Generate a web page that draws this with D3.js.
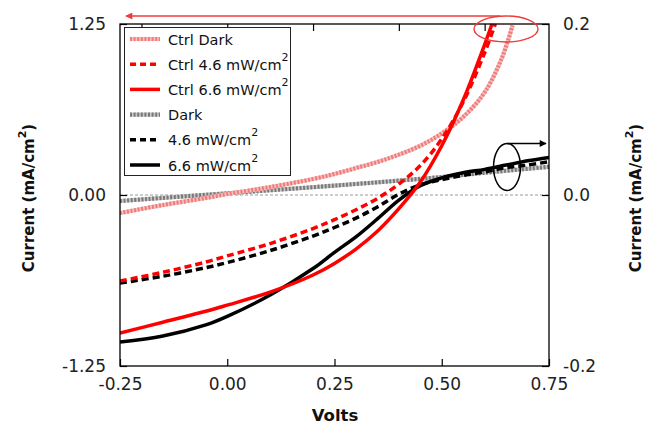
<!DOCTYPE html>
<html>
<head>
<meta charset="utf-8">
<script src="https://cdn.jsdelivr.net/npm/d3@7"></script>
<style>
  html, body { margin: 0; padding: 0; background: #fff; }
  svg { display: block; }
  text { font-family: "DejaVu Sans", sans-serif; }
</style>
</head>
<body>
<svg id="chart" width="649" height="426"></svg>
<script>
// ---- data -------------------------------------------------------------
// Ctrl devices: left axis (mA/cm^2)
const ctrlDarkV   = [-0.25, -0.15, -0.05, 0, 0.1, 0.2, 0.25, 0.3, 0.35, 0.4, 0.45, 0.5, 0.55, 0.6, 0.64, 0.665];
const ctrlDarkI   = [-0.132, -0.073, -0.022, 0.007, 0.058, 0.117, 0.154, 0.197, 0.241, 0.295, 0.36, 0.45, 0.57, 0.75, 1.0, 1.24];

const ctrl46V     = [-0.25, -0.15, -0.05, 0, 0.1, 0.2, 0.25, 0.3, 0.35, 0.4, 0.45, 0.5, 0.55, 0.6, 0.625];
const ctrl46I     = [-0.629, -0.565, -0.49, -0.445, -0.355, -0.245, -0.18, -0.108, -0.025, 0.08, 0.215, 0.41, 0.68, 1.04, 1.25];

const ctrl66V     = [-0.25, -0.15, -0.05, 0, 0.1, 0.2, 0.25, 0.3, 0.35, 0.4, 0.45, 0.5, 0.55, 0.6, 0.617];
const ctrl66I     = [-1.009, -0.93, -0.85, -0.805, -0.71, -0.585, -0.5, -0.395, -0.265, -0.1, 0.095, 0.36, 0.694, 1.1, 1.25];

// Devices: right axis (mA/cm^2)
const darkV       = [-0.25, 0, 0.25, 0.5, 0.6, 0.75];
const darkI       = [-0.007, 0.002, 0.011, 0.021, 0.026, 0.033];

const dev46V      = [-0.25, -0.15, -0.05, 0, 0.1, 0.2, 0.25, 0.3, 0.35, 0.4, 0.45, 0.5, 0.55, 0.6, 0.65, 0.7, 0.75];
const dev46I      = [-0.103, -0.095, -0.085, -0.079, -0.065, -0.048, -0.038, -0.027, -0.014, 0.001, 0.012, 0.018, 0.023, 0.027, 0.032, 0.035, 0.039];

const dev66V      = [-0.25, -0.15, -0.05, 0, 0.1, 0.2, 0.25, 0.3, 0.35, 0.4, 0.45, 0.5, 0.55, 0.6, 0.65, 0.7, 0.75];
const dev66I      = [-0.172, -0.165, -0.152, -0.142, -0.117, -0.086, -0.067, -0.049, -0.028, -0.006, 0.011, 0.020, 0.026, 0.030, 0.035, 0.040, 0.044];

const xTicks      = [-0.25, 0, 0.25, 0.5, 0.75];
const xTopTicks   = [-0.2, 0, 0.2, 0.4, 0.6];
const yLeftTicks  = [1.25, 0, -1.25];
const yRightTicks = [0.2, 0, -0.2];

const legendLabels = ["Ctrl Dark", "Ctrl 4.6 mW/cm", "Ctrl 6.6 mW/cm", "Dark", "4.6 mW/cm", "6.6 mW/cm"];
const legendSup    = [false, true, true, false, true, true];

// ---- layout -----------------------------------------------------------
const L = 120, R = 549, T = 24, B = 366;
const svg = d3.select("#chart");

const x  = d3.scaleLinear().domain([-0.25, 0.75]).range([L, R]);
const yL = d3.scaleLinear().domain([-1.25, 1.25]).range([B, T]);
const yR = d3.scaleLinear().domain([-0.2, 0.2]).range([B, T]);

// plain hyphen for negative numbers
const fmt = p => d => d3.format(p)(d).replace("\u2212", "-");

// line styles
const styles = {
  ctrlDark: [{stroke: "#f7c0c0", width: 4.2}, {stroke: "#f07c7c", width: 4.2, dash: "2,1.6"}],
  ctrl46:   [{stroke: "#ff0000", width: 3.5, dash: "7,4"}],
  ctrl66:   [{stroke: "#ff0000", width: 3.5}],
  dark:     [{stroke: "#c8c8c8", width: 4.2}, {stroke: "#7a7a7a", width: 4.2, dash: "2,1.6"}],
  dev46:    [{stroke: "#000", width: 3.5, dash: "7,4"}],
  dev66:    [{stroke: "#000", width: 3.5}]
};

const series = [
  {key: "dark",     v: darkV,     i: darkI,     y: yR},
  {key: "ctrlDark", v: ctrlDarkV, i: ctrlDarkI, y: yL},
  {key: "dev46",    v: dev46V,    i: dev46I,    y: yR},
  {key: "dev66",    v: dev66V,    i: dev66I,    y: yR},
  {key: "ctrl46",   v: ctrl46V,   i: ctrl46I,   y: yL},
  {key: "ctrl66",   v: ctrl66V,   i: ctrl66I,   y: yL}
];

const defs = svg.append("defs");
defs.append("clipPath").attr("id", "plot")
  .append("rect").attr("x", L).attr("y", T - 2).attr("width", R - L).attr("height", B - T + 2);

// zero reference line
svg.append("line")
  .attr("x1", L).attr("x2", R).attr("y1", yL(0)).attr("y2", yL(0))
  .attr("stroke", "#9a9a9a").attr("stroke-width", 1).attr("stroke-dasharray", "3,2");

const g = svg.append("g").attr("clip-path", "url(#plot)");
series.forEach(s => {
  const pts = s.v.map((v, k) => [v, s.i[k]]);
  const line = d3.line().x(d => x(d[0])).y(d => s.y(d[1])).curve(d3.curveCatmullRom.alpha(0.5));
  styles[s.key].forEach(st => {
    g.append("path").datum(pts)
      .attr("d", line)
      .attr("fill", "none")
      .attr("stroke", st.stroke)
      .attr("stroke-width", st.width)
      .attr("stroke-dasharray", st.dash || null)
      .attr("stroke-linejoin", "round");
  });
});

// ---- axes -------------------------------------------------------------
const tickLen = 7;
const axisFont = 17;

svg.append("g").attr("transform", `translate(0,${B})`)
  .call(d3.axisBottom(x).tickValues(xTicks).tickSizeInner(-tickLen).tickSizeOuter(0).tickPadding(12)
    .tickFormat(fmt(".2f")))
  .call(a => a.selectAll("text").attr("font-size", axisFont).attr("fill", "#222"));

svg.append("g").attr("transform", `translate(0,${T})`)
  .call(d3.axisTop(x).tickValues(xTopTicks).tickSizeInner(-tickLen).tickSizeOuter(0).tickFormat(""));

svg.append("g").attr("transform", `translate(${L},0)`)
  .call(d3.axisLeft(yL).tickValues(yLeftTicks).tickSizeInner(-tickLen).tickSizeOuter(0).tickPadding(14)
    .tickFormat(fmt(".2f")))
  .call(a => a.selectAll("text").attr("font-size", axisFont).attr("fill", "#222"));

svg.append("g").attr("transform", `translate(${R},0)`)
  .call(d3.axisRight(yR).tickValues(yRightTicks).tickSizeInner(-tickLen).tickSizeOuter(0).tickPadding(14)
    .tickFormat(fmt(".1f")))
  .call(a => a.selectAll("text").attr("font-size", axisFont).attr("fill", "#222"));

svg.selectAll(".domain").remove();
svg.selectAll(".tick line").attr("stroke", "#000").attr("stroke-width", 1.2);
svg.append("rect").attr("x", L).attr("y", T).attr("width", R - L).attr("height", B - T)
  .attr("fill", "none").attr("stroke", "#000").attr("stroke-width", 1.3);

// ---- axis titles ------------------------------------------------------
function currentTitle(cx, cy) {
  const t = svg.append("text")
    .attr("transform", `translate(${cx},${cy}) rotate(-90)`)
    .attr("text-anchor", "middle")
    .attr("font-size", 15).attr("font-weight", "bold").attr("fill", "#111");
  t.append("tspan").text("Current (mA/cm");
  t.append("tspan").attr("dy", -8).attr("font-size", 11).text("2");
  t.append("tspan").attr("dy", 8).text(")");
}
currentTitle(34, 198);
currentTitle(641, 198);

svg.append("text").attr("x", 335).attr("y", 421).attr("text-anchor", "middle")
  .attr("font-size", 16.5).attr("font-weight", "bold").attr("fill", "#111").text("Volts");

// ---- legend -----------------------------------------------------------
const lg = svg.append("g");
lg.append("rect").attr("x", 124.5).attr("y", 27.5).attr("width", 166).attr("height", 148)
  .attr("fill", "#fff").attr("stroke", "#222").attr("stroke-width", 1);
const legendKeys = ["ctrlDark", "ctrl46", "ctrl66", "dark", "dev46", "dev66"];
legendKeys.forEach((k, idx) => {
  const yy = 39 + idx * 25.2;
  styles[k].forEach(st => {
    lg.append("line").attr("x1", 130).attr("x2", 160).attr("y1", yy).attr("y2", yy)
      .attr("stroke", st.stroke).attr("stroke-width", st.width)
      .attr("stroke-dasharray", st.dash ? (k.endsWith("46") ? "6,4" : st.dash) : null);
  });
  const t = lg.append("text").attr("x", 168).attr("y", yy + 5.5)
    .attr("font-size", 14.5).attr("fill", "#111");
  t.append("tspan").text(legendLabels[idx]);
  if (legendSup[idx]) t.append("tspan").attr("dy", -9).attr("font-size", 11).text("2");
});

// ---- annotations: which curves belong to which axis -------------------
const ann = svg.append("g");
[["arrRed", "#ee3b3b"], ["arrBlack", "#000"]].forEach(([id, c]) => {
  defs.append("marker").attr("id", id).attr("viewBox", "0 0 10 10").attr("refX", 9).attr("refY", 5)
    .attr("markerWidth", 9).attr("markerHeight", 7).attr("markerUnits", "userSpaceOnUse")
    .attr("orient", "auto")
    .append("path").attr("d", "M0,0 L10,5 L0,10 Z").attr("fill", c);
});
ann.append("ellipse").attr("cx", 506).attr("cy", 29).attr("rx", 32).attr("ry", 13)
  .attr("fill", "none").attr("stroke", "#ee3b3b").attr("stroke-width", 1.4);
ann.append("line").attr("x1", 500).attr("y1", 16).attr("x2", 126).attr("y2", 16)
  .attr("stroke", "#ee3b3b").attr("stroke-width", 1.4).attr("marker-end", "url(#arrRed)");
ann.append("ellipse").attr("cx", 507).attr("cy", 167).attr("rx", 13.5).attr("ry", 23.5)
  .attr("fill", "none").attr("stroke", "#000").attr("stroke-width", 1.5);
ann.append("line").attr("x1", 507).attr("y1", 143.5).attr("x2", 546).attr("y2", 143.5)
  .attr("stroke", "#000").attr("stroke-width", 1.5).attr("marker-end", "url(#arrBlack)");
</script>
</body>
</html>
